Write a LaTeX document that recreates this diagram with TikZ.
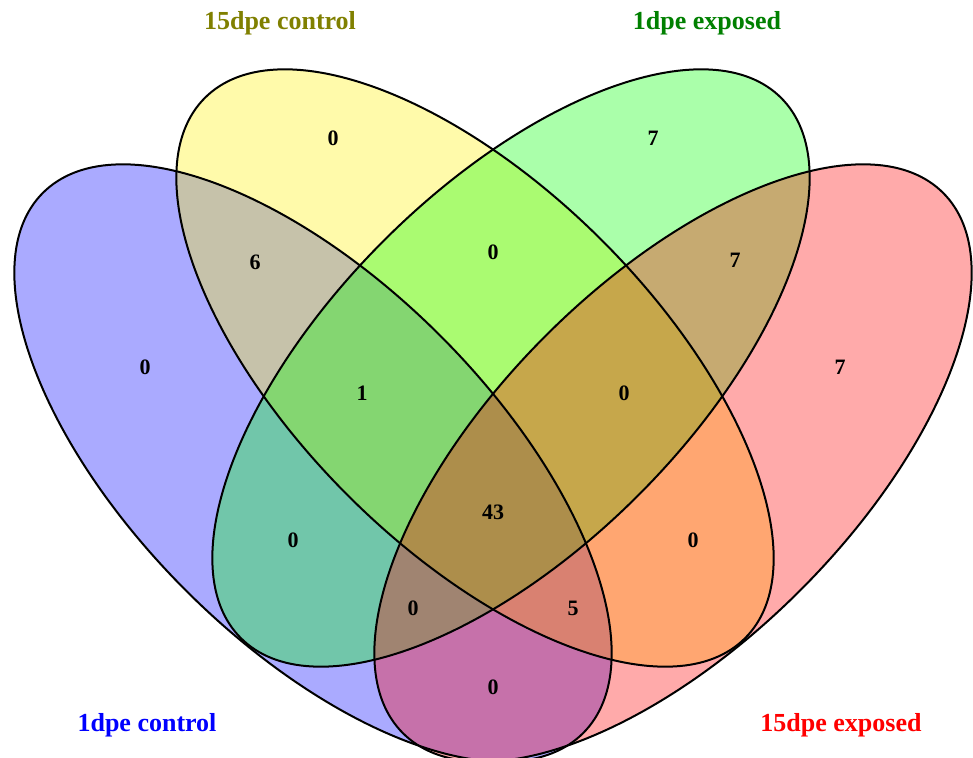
\documentclass[tikz,border=0pt]{standalone}
\usepackage{fontspec}
\setmainfont{Liberation Serif}
\begin{document}
\begin{tikzpicture}[x=1pt,y=-1pt]
\tikzset{
  lab/.style={font=\fontsize{26}{30}\selectfont\bfseries, anchor=base, inner sep=0pt},
  num/.style={font=\fontsize{22}{26}\selectfont\bfseries, text=black, anchor=center, inner sep=0pt},
  outline/.style={draw=black, line width=2pt},
  setfill/.style={fill=#1, fill opacity=0.333}
}
\definecolor{olivelab}{RGB}{128,128,0}
\definecolor{greenlab}{RGB}{0,128,0}
\useasboundingbox (0,0) rectangle (973,757);
\fill[white] (0,0) rectangle (973,757);
% fills
\fill[setfill=blue,   rotate around={-45:(313,463)}] (313,463) ellipse [x radius=382, y radius=180];
\fill[setfill=yellow, rotate around={-45:(475,368)}] (475,368) ellipse [x radius=382, y radius=180];
\fill[setfill=green,  rotate around={45:(511,368)}] (511,368) ellipse [x radius=382, y radius=180];
\fill[setfill=red,    rotate around={45:(673,463)}] (673,463) ellipse [x radius=382, y radius=180];
% outlines
\draw[outline, rotate around={-45:(313,463)}] (313,463) ellipse [x radius=382, y radius=180];
\draw[outline, rotate around={-45:(475,368)}] (475,368) ellipse [x radius=382, y radius=180];
\draw[outline, rotate around={45:(511,368)}] (511,368) ellipse [x radius=382, y radius=180];
\draw[outline, rotate around={45:(673,463)}] (673,463) ellipse [x radius=382, y radius=180];
% set labels
\node[lab, text=olivelab] (labB) at (280,30) {15dpe control};
\node[lab, text=greenlab] (labC) at (707,30) {1dpe exposed};
\node[lab, text=blue] (labA) at (147,731.5) {1dpe control};
\node[lab, text=red] (labD) at (841,731.5) {15dpe exposed};
% counts
\node[num] (nA)    at (145,367) {0};
\node[num] (nB)    at (333,138) {0};
\node[num] (nC)    at (653,138) {7};
\node[num] (nD)    at (840,367) {7};
\node[num] (nAB)   at (255,262) {6};
\node[num] (nBC)   at (493,252) {0};
\node[num] (nCD)   at (735,260) {7};
\node[num] (nABC)  at (362,393) {1};
\node[num] (nBCD)  at (624,393) {0};
\node[num] (nABCD) at (493,512) {43};
\node[num] (nAC)   at (293,540) {0};
\node[num] (nBD)   at (693,540) {0};
\node[num] (nACD)  at (413,608) {0};
\node[num] (nABD)  at (573,608) {5};
\node[num] (nAD)   at (493,687) {0};
\end{tikzpicture}
\end{document}
